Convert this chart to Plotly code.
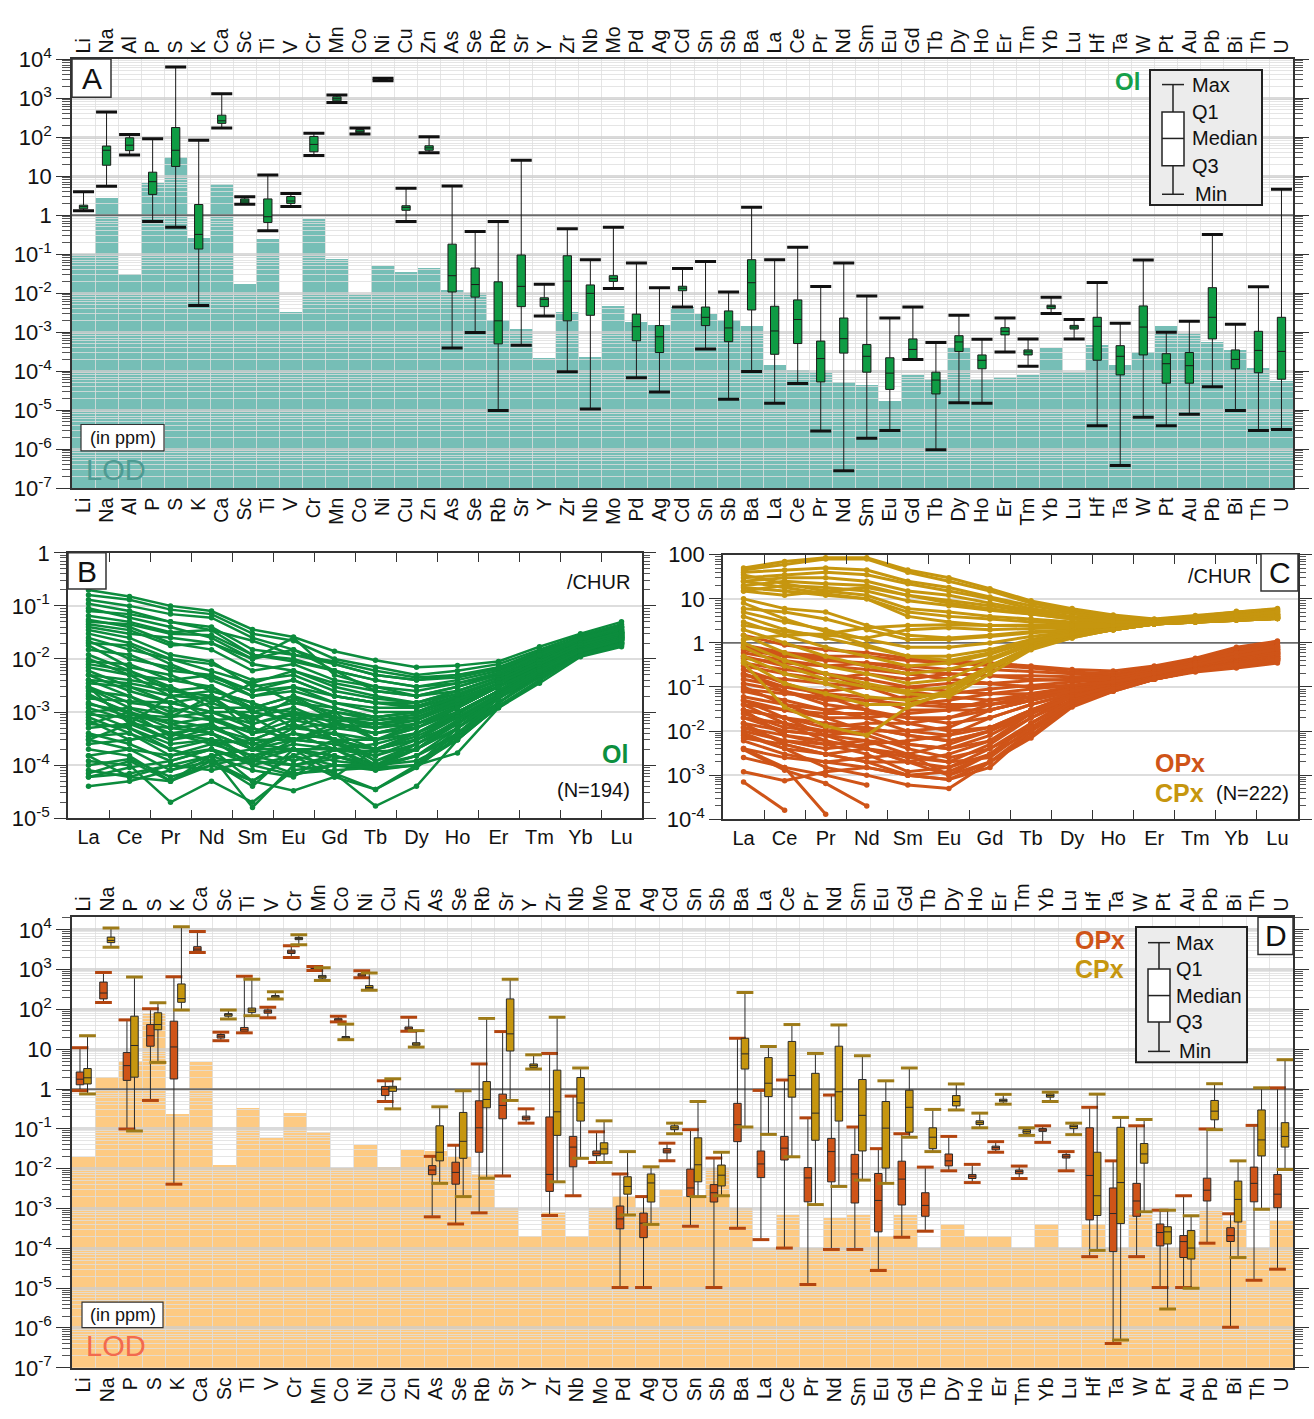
import plotly.graph_objects as go

W, H = 1314, 1419
FONT = "Arial, Liberation Sans, Helvetica, sans-serif"
N = None

# ---------------- Panel A : olivine (ppm) ----------------
ELEMENTS_A = ["Li", "Na", "Al", "P", "S", "K", "Ca", "Sc", "Ti", "V", "Cr", "Mn", "Co", "Ni", "Cu", "Zn",
              "As", "Se", "Rb", "Sr", "Y", "Zr", "Nb", "Mo", "Pd", "Ag", "Cd", "Sn", "Sb", "Ba", "La", "Ce",
              "Pr", "Nd", "Sm", "Eu", "Gd", "Tb", "Dy", "Ho", "Er", "Tm", "Yb", "Lu", "Hf", "Ta", "W", "Pt",
              "Au", "Pb", "Bi", "Th", "U"]
OL_MIN = [1.3, 5.5, 35, 0.69, 0.49, 0.0048, 170, 1.9, 0.40, 1.67, 34, 775, 120, 2800, 0.69, 40,
          3.9e-4, 9.8e-4, 9.8e-6, 4.6e-4, 0.0026, 9.7e-5, 1.07e-5, 0.0132, 6.8e-5, 2.9e-5, 0.0044, 3.7e-4,
          1.9e-5, 9.8e-5, 1.5e-5, 4.8e-5, 2.9e-6, 2.8e-7, 1.9e-6, 3.0e-6, 2.0e-4, 9.6e-7, 1.55e-5, 1.5e-5,
          3.1e-4, 1.33e-4, 0.0030, 6.7e-4, 4.0e-6, 3.8e-7, 6.6e-6, 4.0e-6, 7.8e-6, 4.0e-5, 9.8e-6, 3.0e-6, 3.2e-6]
OL_Q1 = [1.45, 19, 45, 3.4, 17.7, 0.135, 225, 2.03, 0.65, 2.0, 42, 850, 129, 2900, 1.33, 46,
         0.0107, 0.0079, 5.0e-4, 0.0045, 0.0045, 0.00195, 0.0027, 0.020, 6.0e-4, 3.0e-4, 0.0115, 0.00147,
         5.7e-4, 0.0037, 2.7e-4, 5.1e-4, 5.3e-5, 2.9e-4, 9.4e-5, 3.4e-5, 2.05e-4, 2.6e-5, 3.2e-4, 1.15e-4,
         8.5e-4, 2.6e-4, 0.0040, 0.0012, 1.9e-4, 8.0e-5, 2.6e-4, 4.9e-5, 4.9e-5, 6.7e-4, 1.15e-4, 9.1e-5, 6.2e-5]
OL_MED = [1.65, 46, 62, 7.2, 46, 0.32, 262, 2.3, 0.91, 2.3, 65, 960, 141, 3000, 1.58, 53,
          0.028, 0.0166, 0.00195, 0.0149, 0.0069, 0.0203, 0.0099, 0.0235, 0.00138, 7.6e-4, 0.0134, 0.0024,
          0.00128, 0.0185, 0.00107, 0.0021, 2.1e-4, 6.8e-4, 2.4e-4, 8.9e-5, 3.6e-4, 5.9e-5, 5.6e-4, 1.9e-4,
          0.00105, 3.1e-4, 0.0045, 0.00135, 0.00141, 2.4e-4, 0.00135, 1.55e-4, 1.38e-4, 0.0024, 2.0e-4, 3.4e-4, 3.2e-4]
OL_Q3 = [1.8, 59, 96, 12.6, 176, 1.87, 365, 2.6, 2.6, 3.0, 104, 1080, 156, 3100, 1.74, 60,
         0.18, 0.044, 0.0195, 0.095, 0.0076, 0.091, 0.0162, 0.028, 0.0029, 0.00147, 0.015, 0.0044,
         0.0035, 0.072, 0.0046, 0.0067, 5.9e-4, 0.0023, 4.8e-4, 2.2e-4, 6.7e-4, 9.4e-5, 8.1e-4, 2.6e-4,
         0.0013, 3.5e-4, 0.0049, 0.00149, 0.0024, 4.5e-4, 0.0047, 2.8e-4, 3.0e-4, 0.0138, 3.5e-4, 0.00105, 0.0024]
OL_MAX = [4.0, 440, 117, 91, 6300, 83, 1290, 2.95, 10.7, 3.6, 126, 1200, 170, 3250, 4.9, 102,
          5.6, 0.38, 0.69, 25.6, 0.017, 0.45, 0.072, 0.49, 0.059, 0.0138, 0.043, 0.065,
          0.0107, 1.6, 0.072, 0.15, 0.0148, 0.059, 0.0085, 0.0023, 0.0044, 5.4e-4, 0.0027, 6.6e-4,
          0.0023, 6.7e-4, 0.0078, 0.0021, 0.0186, 0.0017, 0.071, 1.0e-3, 0.0019, 0.32, 0.0016, 0.0145, 4.6]
OL_LOD = [0.1, 2.8, 0.031, 6.5, 31, 0.26, 6.1, 0.0167, 0.25, 0.0032, 0.77, 0.076, 0.009, 0.048, 0.035, 0.043,
          0.0117, 0.0103, 0.002, 0.0012, 2.2e-4, 0.0032, 2.3e-4, 0.0046, 0.00186, 0.00155, 0.0044, 0.0029,
          0.002, 0.0014, 1.47e-4, 1.04e-4, 8.7e-5, 5.2e-5, 4.5e-5, 1.66e-5, 7.8e-5, 6.4e-5, 3.8e-4, 6.4e-5,
          7.0e-5, 7.8e-5, 3.8e-4, 9.4e-5, 4.6e-4, 1.4e-4, 3.1e-4, 0.0014, 9.6e-4, 5.6e-4, 3.4e-4, 1.17e-4, 5.7e-5]

# ---------------- Panel D : pyroxenes (ppm) ----------------
ELEMENTS_D = ["Li", "Na", "P", "S", "K", "Ca", "Sc", "Ti", "V", "Cr", "Mn", "Co", "Ni", "Cu", "Zn",
              "As", "Se", "Rb", "Sr", "Y", "Zr", "Nb", "Mo", "Pd", "Ag", "Cd", "Sn", "Sb", "Ba", "La", "Ce",
              "Pr", "Nd", "Sm", "Eu", "Gd", "Tb", "Dy", "Ho", "Er", "Tm", "Yb", "Lu", "Hf", "Ta", "W", "Pt",
              "Au", "Pb", "Bi", "Th", "U"]
OPX_MIN = [0.92, 150, 0.1, 0.52, 0.0041, 2700, 16.5, 26, 62, 2040, 960, 49, 630, 0.49, 28.5,
           6.2e-4, 4.1e-4, 7.8e-4, 0.0066, 0.14, 6.7e-4, 0.0021, 0.0144, 1.04e-5, 1.04e-5, 0.0159, 3.6e-4,
           1.04e-5, 3.2e-4, 1.66e-4, 1.02e-4, 1.23e-5, 9.4e-5, 9.4e-5, 2.8e-5, 1.9e-4, 2.7e-4, 0.0089, 0.0045,
           0.026, 0.0057, 0.046, 0.0089, 6.2e-5, 4.1e-7, 6.2e-5, 1.04e-5, 1.04e-5, 1.35e-4, 1.05e-6, 1.58e-5, 3.0e-5]
OPX_Q1 = [1.29, 185, 1.66, 12, 1.8, 2950, 19.2, 28, 81, 2560, 1020, 52, 680, 0.69, 31,
          0.0071, 0.0041, 0.026, 0.18, 0.17, 0.0027, 0.0112, 0.0213, 3.1e-4, 1.86e-4, 0.025, 0.002,
          0.00146, 0.048, 0.006, 0.0166, 0.00148, 0.0047, 0.00138, 2.6e-4, 0.00123, 6.4e-4, 0.0118, 0.0057,
          0.030, 0.0075, 0.087, 0.0186, 5.2e-4, 8.3e-5, 6.4e-4, 1.15e-4, 5.9e-5, 0.00155, 1.49e-4, 0.00148, 0.00105]
OPX_MED = [1.78, 260, 3.9, 22, 11.5, 3300, 21.4, 31, 91, 2800, 1070, 55, 735, 1.0, 34,
           0.0093, 0.0081, 0.107, 0.39, 0.19, 0.0072, 0.035, 0.0245, 5.5e-4, 4.3e-4, 0.028, 0.0033,
           0.0025, 0.128, 0.0132, 0.033, 0.0059, 0.027, 0.0074, 0.0016, 0.0055, 0.0012, 0.0158, 0.0065,
           0.034, 0.0085, 0.094, 0.0206, 0.0068, 7.5e-4, 0.00155, 2.5e-4, 1.48e-4, 0.0029, 2.1e-4, 0.0043, 0.0023]
OPX_Q3 = [2.7, 490, 8.3, 42, 51, 3800, 23.6, 35.5, 98, 3100, 1120, 59, 795, 1.17, 36.5,
          0.012, 0.0146, 0.51, 0.75, 0.21, 0.20, 0.065, 0.028, 0.00116, 7.7e-4, 0.032, 0.0098,
          0.004, 0.44, 0.028, 0.065, 0.0107, 0.058, 0.023, 0.0076, 0.0155, 0.0025, 0.0235, 0.0072,
          0.037, 0.0093, 0.102, 0.023, 0.107, 0.0033, 0.0043, 4.1e-4, 2.1e-4, 0.0058, 3.3e-4, 0.011, 0.0072]
OPX_MAX = [11, 850, 55, 105, 670, 9100, 27, 690, 115, 4000, 1200, 68, 940, 1.62, 64,
           0.0205, 0.039, 4.3, 28, 0.32, 7.9, 0.67, 0.085, 0.0074, 0.002, 0.044, 0.096,
           0.0186, 19, 0.93, 1.7, 0.19, 0.71, 0.112, 0.032, 0.076, 0.011, 0.065, 0.0129,
           0.048, 0.0117, 0.12, 0.027, 0.35, 0.0158, 0.12, 9.1e-4, 0.0021, 0.1, 7.4e-4, 0.123, 1.08]
CPX_MIN = [0.76, 3700, 0.089, 4.7, 98, N, 58, 70, 185, 4250, 540, 17.5, 307, 0.32, 11.4,
           0.0043, 0.002, 0.0058, 0.52, 3.2, 0.0047, 0.0183, 0.0144, 6.9e-4, 4.0e-4, 0.076, 0.002,
           0.0021, 0.112, 0.073, 0.020, 0.00126, 0.0036, 0.0052, 0.0043, 0.062, 0.027, 0.30, 0.107,
           0.42, 0.069, 0.49, 0.072, 8.9e-5, 5.0e-7, 8.3e-4, 3.0e-6, 1.0e-5, 0.096, 5.9e-5, 9.6e-4, 0.0096]
CPX_Q1 = [1.35, 4800, 2.0, 31, 152, N, 68, 85, 197, 5700, 615, 18.5, 330, 0.88, 12.6,
          0.0158, 0.0183, 0.34, 9.1, 3.5, 0.069, 0.158, 0.0235, 0.0023, 0.00146, 0.096, 0.0047,
          0.0037, 3.2, 0.65, 0.63, 0.052, 0.158, 0.028, 0.0104, 0.083, 0.032, 0.38, 0.129,
          0.48, 0.078, 0.63, 0.102, 6.7e-4, 4.2e-4, 0.0138, 1.29e-4, 5.4e-5, 0.17, 4.6e-4, 0.021, 0.035]
CPX_MED = [1.93, 5450, 12.5, 42, 188, N, 74, 97, 208, 6150, 665, 19.6, 358, 1.07, 13.6,
           0.026, 0.049, 0.55, 24.5, 3.9, 0.27, 0.45, 0.0315, 0.0036, 0.0044, 0.107, 0.0126,
           0.0069, 7.7, 1.41, 2.2, 0.25, 0.86, 0.22, 0.105, 0.35, 0.062, 0.49, 0.144,
           0.52, 0.087, 0.69, 0.115, 0.0021, 0.0045, 0.0236, 2.6e-4, 1.02e-4, 0.28, 0.0017, 0.053, 0.065]
CPX_Q3 = [3.3, 6600, 68, 83, 440, N, 79, 109, 225, 6500, 720, 21, 400, 1.18, 14.7,
          0.12, 0.26, 1.55, 185, 4.3, 3.0, 1.96, 0.045, 0.0063, 0.0074, 0.12, 0.06,
          0.0124, 19, 6.2, 15.8, 2.5, 12, 1.75, 0.49, 0.94, 0.107, 0.69, 0.16,
          0.56, 0.096, 0.76, 0.126, 0.026, 0.11, 0.043, 3.5e-4, 2.8e-4, 0.52, 0.0049, 0.30, 0.144]
CPX_MAX = [22, 11200, 660, 148, 12000, N, 98, 580, 280, 7600, 1120, 43, 830, 1.82, 29.5,
           0.36, 0.91, 60, 580, 7.3, 64, 3.4, 0.16, 0.027, 0.0112, 0.14, 0.49,
           0.026, 270, 11.8, 42, 7.9, 41, 6.9, 1.62, 3.4, 0.31, 1.35, 0.25,
           0.74, 0.107, 0.84, 0.14, 0.75, 0.195, 0.173, 9.1e-4, 6.6e-4, 1.37, 0.0158, 1.08, 5.5]
PX_LOD = [0.020, 1.96, 5.0, 80, 0.24, 4.8, 0.0124, 0.33, 0.060, 0.25, 0.081, 0.0102, 0.039, 0.011, 0.029,
          0.028, 0.020, 0.0074, 0.001, 2.0e-4, 8.2e-4, 2.0e-4, 0.001, 0.0021, 0.001, 0.003, 0.0021,
          0.0102, 0.001, 1.0e-4, 6.7e-4, 1.0e-4, 5.9e-4, 6.7e-4, 2.0e-4, 6.7e-4, 1.0e-4, 4.0e-4, 2.0e-4,
          2.0e-4, 1.0e-4, 4.0e-4, 1.0e-4, 4.0e-4, 1.0e-4, 6.7e-4, 1.0e-4, 1.0e-4, 8.7e-4, 4.8e-4, 1.0e-4, 4.8e-4]

# ---------------- Panels B, C : REE / CHUR ----------------
REE = ["La", "Ce", "Pr", "Nd", "Sm", "Eu", "Gd", "Tb", "Dy", "Ho", "Er", "Tm", "Yb", "Lu"]
OL_CHUR = [
    [2e-1, 1.5e-1, 1e-1, 8e-2, 3.6e-2, 2.6e-2, 1.4e-2, 9.5e-3, 7e-3, 7.5e-3, 9e-3, 1.7e-2, 3e-2, 5e-2],
    [1.6e-1, 1.3e-1, 8.5e-2, 7e-2, 3e-2, 2.2e-2, 1e-2, 7e-3, 5e-3, 6e-3, 8e-3, 1.5e-2, 2.8e-2, 4.5e-2],
    [1.3e-1, 1e-1, 7e-2, 6e-2, 2.5e-2, 1.5e-2, 8e-3, 5e-3, 4e-3, 5e-3, 7e-3, 1.4e-2, 2.5e-2, 4e-2],
    [1.1e-1, 8e-2, 5e-2, 3.5e-2, 1.2e-2, 1e-2, 6e-3, 4e-3, 3e-3, 4e-3, 6e-3, 1.2e-2, 2.4e-2, 3.8e-2],
    [9e-2, 6e-2, 4e-2, 2.5e-2, 1e-2, 2.5e-2, 5e-3, 3e-3, 2.5e-3, 3.5e-3, 5e-3, 1.1e-2, 2.2e-2, 3.5e-2],
    [6.5e-2, 5e-2, 3.2e-2, 3.5e-2, 2.2e-2, 1.2e-2, 9e-3, 6e-3, 4.5e-3, 5e-3, 6.5e-3, 1.3e-2, 2.6e-2, 4.2e-2],
    [5.5e-2, 4e-2, 2e-2, 1.5e-2, 6e-3, 8e-3, 4e-3, 3e-3, 2e-3, 3e-3, 5e-3, 1e-2, 2.2e-2, 3.5e-2],
    [4.5e-2, 3.5e-2, 1.8e-2, 2e-2, 1e-2, 1.5e-2, 6e-3, 2.5e-3, 2e-3, 2.5e-3, 4.5e-3, 1e-2, 2e-2, 3.2e-2],
    [3.5e-2, 2.5e-2, 1.2e-2, 9e-3, 3e-3, 4e-3, 2e-3, 1.5e-3, 1.2e-3, 2e-3, 4e-3, 9e-3, 2e-2, 3e-2],
    [2.5e-2, 1.5e-2, 1e-2, 6e-3, 3.5e-3, 6e-3, 3e-3, 2e-3, 1.5e-3, 2.2e-3, 4e-3, 9e-3, 2e-2, 3.2e-2],
    [1.5e-2, 1.2e-2, 6e-3, 5e-3, 2e-3, 2.5e-3, 1.5e-3, 1e-3, 1e-3, 1.8e-3, 3.5e-3, 8e-3, 1.8e-2, 3e-2],
    [1e-2, 5e-3, 4e-3, 3e-3, 1e-3, 1.5e-3, 1e-3, 7e-4, 8e-4, 1.5e-3, 3e-3, 8e-3, 1.8e-2, 2.8e-2],
    [8e-3, 6e-3, 2.5e-3, 3e-3, 1.2e-3, 2e-3, 8e-4, 6e-4, 5e-4, 1.2e-3, 3e-3, 7e-3, 1.6e-2, 2.5e-2],
    [6e-3, 3e-3, 1.5e-3, 2e-3, 6e-4, 1e-3, 5e-4, 4e-4, 6e-4, 1e-3, 2.5e-3, 7e-3, 1.6e-2, 2.6e-2],
    [5e-3, 4e-3, 3e-3, 1.5e-3, 3.5e-3, 1.5e-3, 1.2e-3, 8e-4, 1e-3, 2e-3, 4e-3, 9e-3, 2e-2, 3.3e-2],
    [4e-3, 2e-3, 8e-4, 1e-3, 5e-4, 3e-4, 4e-4, 2e-4, 3e-4, 8e-4, 2e-3, 6e-3, 1.5e-2, 2.4e-2],
    [3e-3, 1.5e-3, 1.2e-3, 8e-4, 3e-4, 6e-4, 3e-4, 1.2e-4, 2.5e-4, 6e-4, 2e-3, 6e-3, 1.4e-2, 2.3e-2],
    [2.5e-3, 2e-3, 1e-3, 1.5e-3, 8e-4, 1.2e-3, 6e-4, 5e-4, 7e-4, 1.5e-3, 3e-3, 8e-3, 1.8e-2, 2.9e-2],
    [2e-3, 1e-3, 5e-4, 6e-4, 2e-4, 4e-4, 2e-4, 1e-4, 2e-4, 5e-4, 1.8e-3, 5e-3, 1.3e-2, 2.2e-2],
    [1.5e-3, 8e-4, 4e-4, 5e-4, 2.5e-4, 2e-4, 1.5e-4, 9e-5, 1.5e-4, 5e-4, 1.5e-3, 5e-3, 1.3e-2, 2e-2],
    [1.2e-3, 7e-4, 3e-4, 4e-4, 1.2e-4, 3e-4, 2.5e-4, 1.5e-4, 3e-4, 6e-4, 2e-3, 6e-3, 1.4e-2, 2.2e-2],
    [1e-3, 5e-4, 2e-4, 3e-4, 1e-4, 6.5e-5, 1e-4, 8e-5, 1e-4, 4e-4, 1.5e-3, 5e-3, 1.2e-2, 1.9e-2],
    [8e-4, 4e-4, 1.5e-4, 2e-4, 5e-5, 1.5e-4, 6e-5, 3.5e-5, 9e-5, 3.5e-4, 1.2e-3, 3.5e-3, 1.1e-2, 1.7e-2],
    [6e-4, 5e-4, 2.5e-4, 3e-4, 1.5e-4, 2e-4, 1.2e-4, 1e-4, 1.2e-4, 3e-4, 1.5e-3, 5e-3, 1.3e-2, 2.1e-2],
    [4e-4, 2.5e-4, 1.2e-4, 2e-4, 1.2e-4, 1e-4, 1.5e-4, 9e-5, 1e-4, 1.7e-4, 1.2e-3, 4e-3, 1.2e-2, 2e-2],
    [3e-4, 2e-4, 8e-5, 1.5e-4, 1.6e-5, 1e-4, 7e-5, 1.7e-5, 4e-5, 3e-4, 1.3e-3, 4e-3, 1.2e-2, 1.8e-2],
    [2e-4, 1.5e-4, 5e-5, 1e-4, 5e-5, 3.3e-5, 6e-5, 2e-4, 4e-4, 8e-4, 2e-3, 6e-3, 1.5e-2, 2.5e-2],
    [1.2e-4, 1e-4, 2e-5, 5e-5, 2e-5, 8e-5, 1e-4, 1e-4, 2e-4, 6e-4, 2e-3, 6e-3, 1.4e-2, 2.3e-2],
    [8e-5, 6e-5, 1e-4, 8e-5, 1.2e-4, 2e-4, 1.5e-4, 1e-4, 1.5e-4, 4e-4, 1.8e-3, 5e-3, 1.3e-2, 2e-2],
    [6e-5, 7e-5, 1e-4, 1.5e-4, 2e-4, 1.2e-4, 2e-4, 8.5e-5, 1e-4, 5e-4, 2e-3, 6e-3, 1.4e-2, 2.2e-2],
    [4e-5, 5e-5, 8e-5, 1.2e-4, 1.3e-4, 7e-5, 8e-5, 9e-5, 1.5e-4, 3.5e-4, 1.5e-3, 4.5e-3, 1.2e-2, 2e-2],
    [3e-2, 2e-2, 1e-2, 8e-3, 4e-3, 5e-3, 2.5e-3, 1.8e-3, 1.5e-3, 2.5e-3, 4.5e-3, 1e-2, 2.1e-2, 3.4e-2],
    [2e-2, 1.8e-2, 8e-3, 4e-3, 2e-3, 3e-3, 1.5e-3, 1.2e-3, 1.2e-3, 2e-3, 4e-3, 9e-3, 2e-2, 3.1e-2],
    [1.8e-2, 7e-3, 5e-3, 2.5e-3, 1.5e-3, 8e-4, 7e-4, 6e-4, 7e-4, 1.4e-3, 3.5e-3, 8e-3, 1.8e-2, 2.9e-2],
    [7e-3, 5e-3, 2e-3, 1.8e-3, 7e-4, 1.8e-3, 7e-4, 3e-4, 5e-4, 1.2e-3, 3e-3, 7.5e-3, 1.7e-2, 2.7e-2],
    [5e-3, 2.5e-3, 1.5e-3, 1e-3, 1e-3, 7e-4, 5e-4, 6e-4, 8e-4, 1.6e-3, 3.5e-3, 8e-3, 1.8e-2, 3e-2],
    [3.5e-3, 3e-3, 2e-3, 2.5e-3, 1.5e-3, 5e-4, 1e-3, 3e-4, 4e-4, 1e-3, 2.5e-3, 7e-3, 1.6e-2, 2.6e-2],
    [2.8e-3, 1.2e-3, 6e-4, 4e-4, 2e-4, 5e-4, 4e-4, 3e-4, 6e-4, 1.3e-3, 3e-3, 8e-3, 1.7e-2, 2.8e-2],
    [1.8e-3, 1.6e-3, 1.5e-3, 1e-3, 6e-4, 9e-4, 8e-4, 5e-4, 6e-4, 1.3e-3, 3e-3, 7e-3, 1.6e-2, 2.6e-2],
    [1.4e-3, 1e-3, 6e-4, 8e-4, 4e-4, 1e-3, 3e-4, 2e-4, 4e-4, 9e-4, 2.5e-3, 6.5e-3, 1.5e-2, 2.4e-2],
    [9e-4, 8e-4, 7e-4, 5e-4, 5e-4, 3e-4, 5e-4, 6e-4, 7e-4, 1.5e-3, 3.5e-3, 8e-3, 1.8e-2, 3e-2],
    [7e-4, 3e-4, 4e-4, 2.5e-4, 3e-4, 6e-4, 3e-4, 2e-4, 3e-4, 9e-4, 2.5e-3, 7e-3, 1.6e-2, 2.6e-2],
    [5e-4, 6e-4, 3e-4, 5e-4, 3e-4, 3e-4, 4e-4, 1.2e-4, 2e-4, 7e-4, 2.2e-3, 6e-3, 1.5e-2, 2.4e-2],
    [2.5e-4, 3e-4, 4e-4, 3e-4, 2.5e-4, 4e-4, 3e-4, 3e-4, 5e-4, 1e-3, 2.5e-3, 7e-3, 1.6e-2, 2.7e-2],
    [1.5e-4, 2e-4, 1.5e-4, 2.5e-4, 1.5e-4, 2.5e-4, 2e-4, 1.5e-4, 2.5e-4, 6e-4, 2e-3, 6e-3, 1.5e-2, 2.4e-2],
    [1e-4, 1.3e-4, 6e-5, 1e-4, 1.5e-4, 1e-4, 1.3e-4, 2e-4, 3e-4, 8e-4, 2.2e-3, 6.5e-3, 1.5e-2, 2.5e-2],
    [7e-5, 1.2e-4, 5e-5, 1.5e-4, 8e-5, 6e-5, 2e-4, 1.8e-4, 2e-4, 7e-4, 2e-3, 6e-3, 1.5e-2, 2.4e-2],
    [4e-2, 3e-2, 2.5e-2, 2e-2, 8e-3, 6e-3, 3.5e-3, 2.5e-3, 2e-3, 3e-3, 5e-3, 1.1e-2, 2.2e-2, 3.6e-2],
    [9e-3, 8e-3, 4e-3, 5e-3, 2.5e-3, 3e-3, 2e-3, 1.5e-3, 1.5e-3, 2.5e-3, 4.5e-3, 1e-2, 2e-2, 3.3e-2],
    [1.2e-2, 6e-3, 3e-3, 1.2e-3, 1.2e-3, 2e-3, 1.2e-3, 8e-4, 1e-3, 2e-3, 4e-3, 9e-3, 1.9e-2, 3.1e-2],
    [3e-3, 6e-4, 2e-3, 7e-4, 8e-4, 3e-4, 6e-4, 4e-4, 5e-4, 1.2e-3, 3e-3, 7e-3, 1.7e-2, 2.8e-2],
    [6e-4, 1e-3, 3.5e-4, 6e-4, 2e-4, 2e-4, 2e-4, 2.5e-4, 4e-4, 1e-3, 2.5e-3, 7e-3, 1.6e-2, 2.6e-2],
    [2.2e-3, 9e-4, 8e-4, 2e-3, 4e-4, 7e-4, 1e-3, 8e-4, 1e-3, 2e-3, 4e-3, 9e-3, 1.9e-2, 3.2e-2],
    [3.5e-4, 4e-4, 2e-4, 1.2e-4, 5e-5, 1.5e-4, 1e-4, 9e-5, 2e-4, 5e-4, 1.8e-3, 5.5e-3, 1.4e-2, 2.3e-2],
    [8e-2, 7e-2, 5e-2, 4e-2, 1.5e-2, 1.2e-2, 8e-3, 5e-3, 4e-3, 4.5e-3, 6.5e-3, 1.3e-2, 2.5e-2, 4e-2],
    [1.5e-4, 6e-5, 5e-5, 1.2e-4, 4e-5, 2e-4, 7e-5, 3.5e-5, 1e-4, 3e-4, 1.3e-3, 4e-3, 1.2e-2, 1.9e-2],
    [5e-2, 4.5e-2, 3e-2, 2.8e-2, 1.2e-2, 9e-3, 6e-3, 4e-3, 3e-3, 3.5e-3, 5.5e-3, 1.2e-2, 2.4e-2, 3.9e-2],
    [2.2e-2, 1e-2, 7e-3, 4.5e-3, 2.5e-3, 4e-3, 2e-3, 1.5e-3, 1.3e-3, 2.2e-3, 4e-3, 9e-3, 2e-2, 3.2e-2],
    [4e-3, 3.5e-3, 2.5e-3, 2e-3, 1.2e-3, 1e-3, 8e-4, 7e-4, 9e-4, 1.7e-3, 3.5e-3, 8e-3, 1.8e-2, 2.9e-2],
    [1e-3, 1.2e-3, 9e-4, 7e-4, 4e-4, 5e-4, 6e-4, 4e-4, 6e-4, 1.2e-3, 3e-3, 7e-3, 1.6e-2, 2.7e-2],
    [3e-4, 6e-4, 5e-4, 4e-4, 2e-4, 3e-4, 2.5e-4, 2e-4, 3.5e-4, 8e-4, 2.2e-3, 6.5e-3, 1.5e-2, 2.5e-2],
    [6e-5, 9e-5, 1.2e-4, 2e-4, 1e-4, 1.5e-4, 3e-4, 1e-4, 2.5e-4, 7e-4, 2e-3, 6e-3, 1.4e-2, 2.3e-2],
]
OPX_CHUR = [
    [1.5, 0.9, 0.7, 0.6, 0.45, 0.4, 0.35, 0.3, 0.25, 0.23, 0.3, 0.45, 0.8, 1.1],
    [0.9, 0.6, 0.5, 0.5, 0.4, 0.35, 0.3, 0.27, 0.22, 0.2, 0.28, 0.42, 0.7, 1.0],
    [0.6, 0.4, 0.3, 0.35, 0.3, 0.25, 0.25, 0.22, 0.2, 0.2, 0.27, 0.4, 0.65, 0.9],
    [0.3, 0.2, 0.15, 0.2, 0.15, 0.2, 0.18, 0.18, 0.17, 0.18, 0.25, 0.38, 0.6, 0.85],
    [0.2, 0.1, 0.08, 0.1, 0.1, 0.12, 0.12, 0.14, 0.15, 0.17, 0.24, 0.36, 0.55, 0.8],
    [0.12, 0.08, 0.05, 0.05, 0.06, 0.07, 0.09, 0.11, 0.13, 0.15, 0.22, 0.34, 0.5, 0.75],
    [0.08, 0.05, 0.03, 0.04, 0.04, 0.05, 0.07, 0.09, 0.11, 0.14, 0.21, 0.32, 0.48, 0.7],
    [0.05, 0.03, 0.02, 0.02, 0.025, 0.03, 0.05, 0.07, 0.1, 0.13, 0.2, 0.3, 0.45, 0.65],
    [0.03, 0.02, 0.012, 0.015, 0.015, 0.02, 0.04, 0.06, 0.09, 0.12, 0.19, 0.29, 0.42, 0.6],
    [0.02, 0.01, 0.008, 0.01, 0.01, 0.012, 0.03, 0.05, 0.08, 0.11, 0.18, 0.28, 0.4, 0.55],
    [0.01, 0.006, 0.004, 0.005, 0.006, 0.008, 0.02, 0.04, 0.07, 0.1, 0.17, 0.26, 0.37, 0.5],
    [0.006, 0.003, 0.002, 0.0025, 0.003, 0.005, 0.01, 0.03, 0.06, 0.09, 0.16, 0.24, 0.33, 0.45],
    [0.008, 0.004, 0.0015, 0.001, 0.0006, 0.0005, 0.002, 0.007, 0.035, 0.08, 0.15, 0.22, 0.27, 0.35],
    [0.015, 0.005, 0.003, 0.002, 0.001, 0.0008, 0.0015, 0.01, 0.04, 0.085, 0.15, 0.23, 0.3, 0.4],
    [0.04, 0.015, 0.006, 0.004, 0.002, 0.0015, 0.003, 0.015, 0.05, 0.09, 0.16, 0.25, 0.35, 0.45],
    [0.1, 0.04, 0.02, 0.01, 0.005, 0.004, 0.006, 0.02, 0.06, 0.1, 0.17, 0.27, 0.38, 0.5],
    [0.25, 0.12, 0.06, 0.03, 0.015, 0.01, 0.012, 0.03, 0.07, 0.11, 0.18, 0.3, 0.45, 0.6],
    [0.5, 0.3, 0.2, 0.1, 0.05, 0.04, 0.04, 0.05, 0.08, 0.12, 0.2, 0.32, 0.5, 0.7],
    [0.012, 0.008, 0.006, 0.004, 0.003, 0.002, 0.005, 0.02, 0.05, 0.09, 0.16, 0.25, 0.34, 0.45],
    [0.02, 0.015, 0.01, 0.008, 0.004, 0.0025, 0.004, 0.012, 0.045, 0.09, 0.16, 0.24, 0.32, 0.42],
    [0.007, 0.005, 0.003, 0.004, 0.002, 0.003, 0.006, 0.025, 0.06, 0.1, 0.17, 0.26, 0.36, 0.48],
    [0.35, 0.25, 0.2, 0.15, 0.1, 0.08, 0.07, 0.07, 0.09, 0.12, 0.2, 0.3, 0.5, 0.7],
    [0.8, 0.55, 0.45, 0.3, 0.2, 0.15, 0.12, 0.1, 0.1, 0.13, 0.21, 0.33, 0.55, 0.8],
    [0.15, 0.1, 0.07, 0.06, 0.03, 0.03, 0.03, 0.05, 0.08, 0.12, 0.19, 0.3, 0.45, 0.62],
    [0.06, 0.04, 0.03, 0.02, 0.01, 0.008, 0.012, 0.03, 0.06, 0.1, 0.17, 0.27, 0.4, 0.55],
    [0.03, 0.008, 0.005, 0.006, 0.003, 0.001, 0.003, 0.015, 0.05, 0.09, 0.16, 0.25, 0.33, 0.43],
    [0.009, 0.004, 0.003, 0.002, 0.002, 0.001, 0.002, 0.008, 0.04, 0.085, 0.15, 0.23, 0.3, 0.4],
    [0.05, 0.02, 0.015, 0.012, 0.008, 0.006, 0.01, 0.025, 0.06, 0.1, 0.18, 0.27, 0.38, 0.52],
    [0.2, 0.08, 0.04, 0.03, 0.02, 0.015, 0.02, 0.04, 0.07, 0.11, 0.18, 0.28, 0.42, 0.58],
    [0.004, 0.0025, 0.002, 0.0015, 0.001, 0.0012, 0.003, 0.01, 0.04, 0.08, 0.15, 0.23, 0.3, 0.38],
    [0.0012, 0.00075, 0.0012, 0.0015, 0.001, 0.0008, 0.002, 0.01, 0.04, 0.085, 0.15, 0.23, 0.3, 0.4],
    [0.18, 0.15, 0.12, 0.1, 0.08, 0.06, 0.05, 0.06, 0.09, 0.12, 0.19, 0.3, 0.46, 0.64],
    [0.09, 0.07, 0.06, 0.05, 0.04, 0.035, 0.04, 0.06, 0.09, 0.12, 0.19, 0.29, 0.43, 0.6],
    [0.04, 0.03, 0.025, 0.025, 0.02, 0.02, 0.03, 0.05, 0.08, 0.11, 0.18, 0.28, 0.4, 0.55],
    [0.025, 0.012, 0.01, 0.012, 0.008, 0.006, 0.01, 0.03, 0.065, 0.1, 0.17, 0.26, 0.37, 0.5],
    [0.015, 0.01, 0.008, 0.006, 0.005, 0.004, 0.008, 0.025, 0.06, 0.1, 0.17, 0.26, 0.36, 0.48],
    [0.7, 0.5, 0.4, 0.35, 0.25, 0.2, 0.18, 0.15, 0.14, 0.15, 0.22, 0.35, 0.6, 0.85],
    [0.45, 0.35, 0.3, 0.25, 0.2, 0.15, 0.12, 0.1, 0.11, 0.13, 0.2, 0.32, 0.5, 0.72],
    [0.012, 0.006, 0.005, 0.003, 0.0012, 0.0015, 0.004, 0.015, 0.05, 0.09, 0.16, 0.25, 0.34, 0.44],
    [0.03, 0.02, 0.008, 0.004, 0.0025, 0.002, 0.0025, 0.012, 0.045, 0.09, 0.16, 0.24, 0.32, 0.42],
    [0.0007, 0.00016, N, N, N, N, N, N, N, N, N, N, N, N],
    [0.0038, 0.0013, 0.00065, 0.0002, N, N, N, N, N, N, N, N, N, N],
    [0.004, 0.0015, 0.00013, N, N, N, N, N, N, N, N, N, N, N],
    [0.0025, 0.0015, 0.001, 0.0006, N, N, N, N, N, N, N, N, N, N],
]
CPX_CHUR = [
    [50, 70, 85, 85, 45, 30, 17, 9, 6, 4.3, 3.5, 4.2, 5.2, 6],
    [45, 60, 80, 80, 40, 25, 15, 8, 5.5, 4, 3.4, 4, 5, 5.8],
    [40, 45, 50, 45, 25, 18, 11, 7, 5, 3.8, 3.3, 3.9, 4.8, 5.5],
    [30, 35, 40, 35, 22, 15, 10, 6, 4.5, 3.5, 3.1, 3.7, 4.6, 5.2],
    [25, 30, 30, 25, 15, 12, 8, 5.5, 4, 3.3, 3, 3.6, 4.4, 5],
    [20, 25, 22, 20, 12, 9, 7, 5, 3.8, 3.2, 2.9, 3.5, 4.2, 4.8],
    [15, 20, 18, 15, 9, 7, 5.5, 4.5, 3.5, 3, 2.8, 3.3, 4, 4.5],
    [35, 22, 15, 12, 6, 5, 4, 3.5, 3, 2.8, 2.8, 3.2, 3.8, 4.2],
    [18, 15, 12, 10, 5, 4, 3.5, 3, 2.8, 2.7, 2.7, 3.1, 3.6, 4],
    [10, 6, 5, 2.5, 1.5, 1.3, 1.5, 1.8, 2, 2.2, 2.8, 3.2, 3.6, 4],
    [6, 5, 3.5, 2, 1.2, 1.2, 1.4, 1.7, 1.9, 2.3, 2.8, 3.2, 3.7, 4.2],
    [5, 3, 2, 1.2, 0.8, 0.8, 1, 1.4, 1.8, 2.2, 2.8, 3.1, 3.5, 3.9],
    [4, 2, 1.3, 0.8, 0.5, 0.5, 0.7, 1.2, 1.7, 2.1, 2.7, 3.1, 3.5, 3.8],
    [3, 1.5, 0.8, 0.5, 0.3, 0.35, 0.55, 1.1, 1.6, 2.1, 2.7, 3, 3.4, 3.7],
    [2, 1, 0.5, 0.3, 0.2, 0.25, 0.45, 1, 1.5, 2, 2.7, 3, 3.3, 3.6],
    [1.5, 0.6, 0.3, 0.2, 0.12, 0.15, 0.4, 0.9, 1.5, 2, 2.7, 3, 3.3, 3.6],
    [1, 0.4, 0.2, 0.12, 0.08, 0.1, 0.3, 0.8, 1.4, 2, 2.7, 3, 3.3, 3.6],
    [0.5, 0.2, 0.12, 0.06, 0.05, 0.08, 0.3, 0.8, 1.4, 2, 2.7, 3, 3.4, 3.7],
    [0.35, 0.035, 0.013, 0.008, 0.035, 0.08, 0.3, 0.8, 1.4, 2, 2.7, 3, 3.3, 3.6],
    [0.4, 0.12, 0.07, 0.04, 0.04, 0.07, 0.25, 0.75, 1.3, 2, 2.7, 3, 3.3, 3.6],
    [2.5, 1.8, 1.5, 1.3, 2, 2.2, 2, 2.1, 2.2, 2.4, 2.8, 3.2, 3.7, 4.3],
    [1.2, 1.5, 1.6, 2.2, 2.5, 2.6, 2.5, 2.5, 2.5, 2.6, 2.9, 3.3, 3.8, 4.5],
    [8, 3.5, 1.8, 0.9, 0.5, 0.4, 0.6, 1.1, 1.6, 2.1, 2.7, 3.1, 3.5, 3.9],
    [25, 18, 13, 10, 4, 3, 2.5, 2.5, 2.5, 2.5, 2.8, 3.2, 3.8, 4.5],
    [0.8, 0.3, 0.15, 0.1, 0.07, 0.06, 0.2, 0.7, 1.3, 2, 2.7, 3, 3.3, 3.6],
    [15, 12, 15, 18, 12, 8, 6, 4.5, 3.5, 3, 2.9, 3.4, 4.2, 5],
]

# ---------------- tick labels ----------------
TICKS_AD = [1e-7, 1e-6, 1e-5, 1e-4, 1e-3, 1e-2, 1e-1, 1, 10, 100, 1000, 10000]
TICKTEXT_AD = ["10<sup>-7</sup>", "10<sup>-6</sup>", "10<sup>-5</sup>", "10<sup>-4</sup>", "10<sup>-3</sup>",
               "10<sup>-2</sup>", "10<sup>-1</sup>", "1", "10", "10<sup>2</sup>", "10<sup>3</sup>", "10<sup>4</sup>"]
TICKS_B = [1e-5, 1e-4, 1e-3, 1e-2, 1e-1, 1]
TICKTEXT_B = ["10<sup>-5</sup>", "10<sup>-4</sup>", "10<sup>-3</sup>", "10<sup>-2</sup>", "10<sup>-1</sup>", "1"]
TICKS_C = [1e-4, 1e-3, 1e-2, 1e-1, 1, 10, 100]
TICKTEXT_C = ["10<sup>-4</sup>", "10<sup>-3</sup>", "10<sup>-2</sup>", "10<sup>-1</sup>", "1", "10", "100"]
MINOR_TICKS = [m * 10.0 ** k for k in range(-8, 5) for m in range(2, 10)]

# ---------------- colours ----------------
TEAL = "#76beb6"
PEACH = "#fdca83"
GREEN_BOX = "#0f9c44"
GREEN_LINE = "#0c8c3d"
OPX_C = "#cf5418"
CPX_C = "#c6960f"
GRID_MINOR = "rgba(222,222,222,0.8)"
GRID_MAJOR = "rgba(205,205,205,0.75)"
FRAME = "#333333"


def px(x):
    return x / W


def py(y):
    return 1 - y / H


XA, YA = [px(72), px(1293)], [py(482), py(44)]
XB, YB = [px(68), px(642)], [py(819), py(548)]
XC, YC = [px(723), px(1298)], [py(820), py(550)]
XD, YD = [px(72), px(1293)], [py(1380), py(920)]
RANGE_A = [-7, 4]
RANGE_D = [-7, 4.32]

fig = go.Figure()

# ---- base subplots (LOD bars) ----
fig.add_trace(go.Bar(x=ELEMENTS_A, y=OL_LOD, marker=dict(color=TEAL, line=dict(width=0)),
                     xaxis="x", yaxis="y", hoverinfo="skip"))
fig.add_trace(go.Bar(x=ELEMENTS_D, y=PX_LOD, marker=dict(color=PEACH, line=dict(width=0)),
                     xaxis="x6", yaxis="y6", hoverinfo="skip"))

# ---- panel A boxes ----
fig.add_trace(go.Box(x=ELEMENTS_A, q1=OL_Q1, median=OL_MED, q3=OL_Q3, lowerfence=OL_MIN, upperfence=OL_MAX,
                     xaxis="x2", yaxis="y2", fillcolor=GREEN_BOX, line=dict(color="#1a1a1a", width=1),
                     width=0.36, whiskerwidth=0, boxpoints=False, hoverinfo="skip"))
for vals in (OL_MAX, OL_MIN):
    fig.add_trace(go.Scatter(x=ELEMENTS_A, y=vals, mode="markers", xaxis="x2", yaxis="y2", hoverinfo="skip",
                             marker=dict(symbol="line-ew", size=15, line=dict(color="#111111", width=3))))

# ---- panel B lines ----
for row in OL_CHUR:
    fig.add_trace(go.Scatter(x=REE, y=row, mode="lines+markers", xaxis="x4", yaxis="y4", hoverinfo="skip",
                             line=dict(color=GREEN_LINE, width=2.5), marker=dict(color=GREEN_LINE, size=5.5)))

# ---- panel C lines ----
for row in OPX_CHUR:
    fig.add_trace(go.Scatter(x=REE, y=row, mode="lines+markers", xaxis="x5", yaxis="y5", hoverinfo="skip",
                             line=dict(color=OPX_C, width=3), marker=dict(color=OPX_C, size=5.5)))
for row in CPX_CHUR:
    fig.add_trace(go.Scatter(x=REE, y=row, mode="lines+markers", xaxis="x5", yaxis="y5", hoverinfo="skip",
                             line=dict(color=CPX_C, width=3), marker=dict(color=CPX_C, size=5.5)))

# ---- panel D grid subplot + boxes ----
fig.add_trace(go.Scatter(x=ELEMENTS_D, y=PX_LOD, mode="markers", marker=dict(opacity=0), xaxis="x7", yaxis="y7",
                         hoverinfo="skip"))
for ax in ("x8", "x9"):
    fig.add_trace(go.Scatter(x=ELEMENTS_D, y=PX_LOD, mode="markers", marker=dict(opacity=0), xaxis=ax,
                             yaxis="y7", hoverinfo="skip"))


def keep(vals):
    return [v for v in vals if v is not None]


cpx_x = [e for e, v in zip(ELEMENTS_D, CPX_MED) if v is not None]
series = [
    ("x8", ELEMENTS_D, OPX_MIN, OPX_Q1, OPX_MED, OPX_Q3, OPX_MAX, OPX_C, "#b3450f"),
    ("x9", cpx_x, keep(CPX_MIN), keep(CPX_Q1), keep(CPX_MED), keep(CPX_Q3), keep(CPX_MAX), CPX_C, "#9e7b18"),
]
for ax, xs, mn, q1, md, q3, mx, col, capcol in series:
    fig.add_trace(go.Box(x=xs, q1=q1, median=md, q3=q3, lowerfence=mn, upperfence=mx, xaxis=ax, yaxis="y7",
                         fillcolor=col, line=dict(color="#2a2a2a", width=1), width=0.32, whiskerwidth=0,
                         boxpoints=False, hoverinfo="skip"))
    for vals in (mx, mn):
        fig.add_trace(go.Scatter(x=xs, y=vals, mode="markers", xaxis=ax, yaxis="y7", hoverinfo="skip",
                                 marker=dict(symbol="line-ew", size=12, line=dict(color=capcol, width=3))))

# ---------------- axes ----------------
tick_font_el = dict(family=FONT, size=19.5, color="#111")
tick_font_y = dict(family=FONT, size=22, color="#111")


def base_x(domain, anchor, n):
    return dict(domain=domain, anchor=anchor, type="category", range=[-0.5, n - 0.5], tickangle=-90,
                tickmode="linear", tick0=0, dtick=1,
                ticks="", showgrid=False, zeroline=False, showline=True, linecolor=FRAME, linewidth=1.5,
                mirror=True, tickfont=tick_font_el)


def base_y(domain, anchor, rng):
    return dict(domain=domain, anchor=anchor, type="log", range=rng, tickmode="array", tickvals=TICKS_AD,
                ticktext=TICKTEXT_AD, ticks="outside", ticklen=14, tickwidth=1, tickcolor=FRAME,
                showline=True, linecolor=FRAME, linewidth=1.5, mirror="allticks", showgrid=False,
                zeroline=False, tickfont=tick_font_y,
                minor=dict(tickmode="array", tickvals=MINOR_TICKS, ticks="outside", ticklen=8,
                           tickcolor="#555", tickwidth=1, showgrid=False))


def grid_x(domain, anchor, n):
    return dict(domain=domain, anchor=anchor, type="category", range=[-0.5, n - 0.5], side="top",
                tickangle=-90, tickmode="linear", tick0=0, dtick=1,
                tickson="boundaries", ticks="", showgrid=True, gridcolor=GRID_MINOR,
                gridwidth=1, zeroline=False, showline=True, linecolor=FRAME, linewidth=1.5, mirror=True,
                tickfont=tick_font_el)


def grid_y(domain, anchor, rng):
    return dict(domain=domain, anchor=anchor, type="log", range=rng, tickmode="array", tickvals=TICKS_AD,
                showticklabels=False, ticks="", showgrid=True, gridcolor=GRID_MAJOR, gridwidth=3,
                zeroline=False, showline=True, linecolor=FRAME, linewidth=1.5, mirror=True,
                minor=dict(tickmode="array", tickvals=MINOR_TICKS, ticks="", showgrid=True,
                           gridcolor=GRID_MINOR, gridwidth=1))


def ree_x(domain, anchor):
    return dict(domain=domain, anchor=anchor, type="category", range=[-0.5, 13.5], ticks="inside",
                tickmode="linear", tick0=0, dtick=1,
                ticklen=9, tickwidth=1, tickcolor=FRAME, tickson="boundaries", showgrid=False, zeroline=False,
                showline=True, linecolor=FRAME, linewidth=1.5, mirror="allticks",
                tickfont=dict(family=FONT, size=20, color="#111"))


def ree_y(domain, anchor, rng, tv, tt):
    return dict(domain=domain, anchor=anchor, type="log", range=rng, tickmode="array", tickvals=tv,
                ticktext=tt, ticks="outside", ticklen=12, tickwidth=1, tickcolor=FRAME, showline=True,
                linecolor=FRAME, linewidth=1.5, mirror="allticks", showgrid=True, gridcolor="#dddddd",
                gridwidth=1.5, zeroline=False, tickfont=dict(family=FONT, size=22, color="#111"),
                minor=dict(tickmode="array", tickvals=MINOR_TICKS, ticks="outside", ticklen=6,
                           tickcolor="#555", showgrid=False))


nA, nD = len(ELEMENTS_A), len(ELEMENTS_D)
SHIFT = 0.16
fig.update_layout(
    xaxis=base_x(XA, "y", nA), yaxis=base_y(YA, "x", RANGE_A),
    xaxis2=grid_x(XA, "y2", nA), yaxis2=grid_y(YA, "x2", RANGE_A),
    xaxis4=ree_x(XB, "y4"), yaxis4=ree_y(YB, "x4", [-5, 0], TICKS_B, TICKTEXT_B),
    xaxis5=ree_x(XC, "y5"), yaxis5=ree_y(YC, "x5", [-4, 2], TICKS_C, TICKTEXT_C),
    xaxis6=base_x(XD, "y6", nD), yaxis6=base_y(YD, "x6", RANGE_D),
    xaxis7=grid_x(XD, "y7", nD), yaxis7=grid_y(YD, "x7", RANGE_D),
    xaxis8=dict(overlaying="x7", anchor="y7", type="category", visible=False,
                range=[-0.5 + SHIFT, nD - 0.5 + SHIFT]),
    xaxis9=dict(overlaying="x7", anchor="y7", type="category", visible=False,
                range=[-0.5 - SHIFT, nD - 0.5 - SHIFT]),
)

# ---------------- decorations ----------------
shapes = []
annotations = []


def rect(x0, y0, x1, y1, fill="white", lc=FRAME, lw=1.5):
    shapes.append(dict(type="rect", xref="paper", yref="paper", x0=px(x0), x1=px(x1), y0=py(y1), y1=py(y0),
                       fillcolor=fill, line=dict(color=lc, width=lw), layer="above"))


def seg(x0, y0, x1, y1, lc="#222", lw=1.5):
    shapes.append(dict(type="line", xref="paper", yref="paper", x0=px(x0), x1=px(x1), y0=py(y0), y1=py(y1),
                       line=dict(color=lc, width=lw), layer="above"))


def text(t, x, y, size=19, color="#111", xanchor="left"):
    annotations.append(dict(text=t, x=px(x), y=py(y), xref="paper", yref="paper", xanchor=xanchor,
                            yanchor="middle", showarrow=False, font=dict(family=FONT, size=size, color=color)))


# reference lines at 1
shapes.append(dict(type="line", xref="x2", yref="y2", x0=-0.5, x1=nA - 0.5, y0=1, y1=1,
                   line=dict(color="#444", width=1.3), layer="between"))
shapes.append(dict(type="line", xref="x7", yref="y7", x0=-0.5, x1=nD - 0.5, y0=1, y1=1,
                   line=dict(color="#444", width=1.3), layer="between"))
shapes.append(dict(type="line", xref="x5", yref="y5", x0=-0.5, x1=13.5, y0=1, y1=1,
                   line=dict(color="#444", width=1.3), layer="between"))


def legend_box(x0, y0, x1, y1, ys, xt):
    rect(x0, y0, x1, y1, fill="#ececec", lc="#222", lw=2)
    cx = x0 + 23
    ymax, yq1, ymed, yq3, ymin = ys
    seg(cx, ymax, cx, ymin, lw=1.5)
    seg(cx - 11, ymax, cx + 11, ymax, lw=1.5)
    seg(cx - 11, ymin, cx + 11, ymin, lw=1.5)
    rect(cx - 11, yq1, cx + 11, yq3, fill="white", lc="#222", lw=1.5)
    seg(cx - 11, ymed, cx + 11, ymed, lw=1.5)
    for lab, yy in zip(["Max", "Q1", "Median", "Q3", "Min"], ys):
        text(lab, xt + (3 if lab == "Min" else 0), yy, size=20)


# Panel A
rect(72, 44, 111, 83)
text("A", 91.5, 64, size=30, xanchor="center")
text("<b>Ol</b>", 1127, 67, size=24, color="#14a04a", xanchor="center")
legend_box(1150, 55, 1262, 193, [70, 98, 125, 153, 182], 1190)
rect(81, 417, 164, 444, lw=1.2)
text("(in ppm)", 122.5, 431, size=18, xanchor="center")
text("LOD", 84, 463, size=29, color="#4f9b93")

# Panel B
rect(68, 548, 106, 585)
text("B", 87, 567, size=30, xanchor="center")
text("/CHUR", 632, 578, size=20, xanchor="right")
text("<b>Ol</b>", 615, 753, size=25, color="#0c8f3e", xanchor="center")
text("(N=194)", 632, 790, size=20, xanchor="right")

# Panel C
rect(1261, 549, 1298, 587)
text("C", 1279.5, 568, size=30, xanchor="center")
text("/CHUR", 1253, 572, size=20, xanchor="right")
text("<b>OPx</b>", 1153, 763, size=25, color=OPX_C)
text("<b>CPx</b>", 1153, 793, size=25, color=CPX_C)
text("(N=222)", 1214, 793, size=20)

# Panel D
rect(1258, 920, 1293, 958)
text("D", 1275.5, 939, size=30, xanchor="center")
text("<b>OPx</b>", 1073, 943, size=25, color=OPX_C)
text("<b>CPx</b>", 1073, 973, size=25, color=CPX_C)
legend_box(1136, 930, 1247, 1068, [946, 973, 1000, 1027, 1057], 1174)
rect(82, 1313, 163, 1339, lw=1.2)
text("(in ppm)", 122.5, 1326, size=18, xanchor="center")
text("LOD", 84, 1358, size=29, color="#f26a4f")

fig.update_layout(
    width=W, height=H, margin=dict(l=0, r=0, t=0, b=0), showlegend=False,
    paper_bgcolor="white", plot_bgcolor="rgba(0,0,0,0)", bargap=0,
    font=dict(family=FONT, color="#111"), shapes=shapes, annotations=annotations,
)

fig.write_html("out.html")
